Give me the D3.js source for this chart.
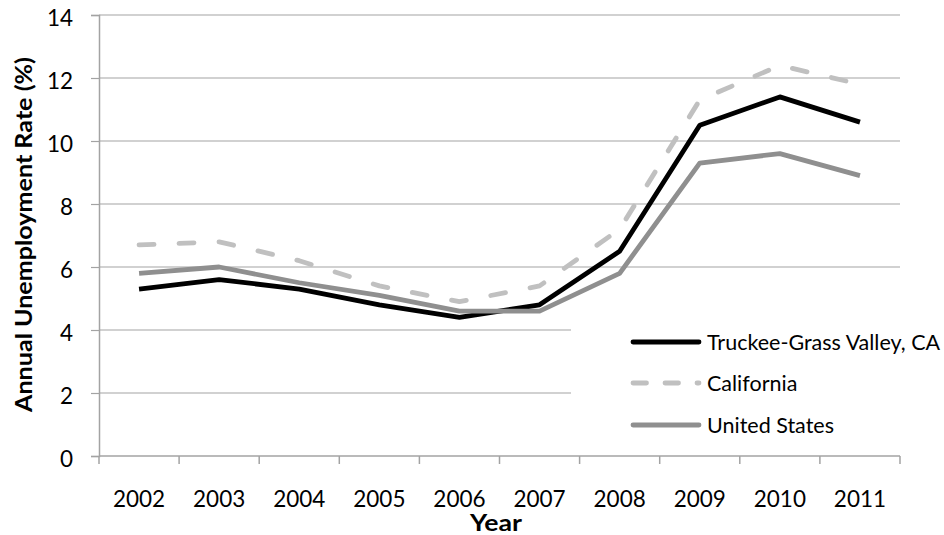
<!DOCTYPE html>
<html>
<head>
<meta charset="utf-8">
<script src="https://cdn.jsdelivr.net/npm/d3@7"></script>
<style>
  html, body { margin: 0; padding: 0; background: #fff; }
  svg { display: block; font-family: Lato, "Open Sans", sans-serif; }
</style>
</head>
<body>
<svg id="chart" width="944" height="535"></svg>
<script>
const years = ["2002","2003","2004","2005","2006","2007","2008","2009","2010","2011"];
const truckee = [5.3, 5.6, 5.3, 4.8, 4.4, 4.8, 6.5, 10.5, 11.4, 10.6];
const california = [6.7, 6.8, 6.2, 5.4, 4.9, 5.4, 7.2, 11.3, 12.4, 11.8];
const unitedStates = [5.8, 6.0, 5.5, 5.1, 4.6, 4.6, 5.8, 9.3, 9.6, 8.9];
const yTicks = [0, 2, 4, 6, 8, 10, 12, 14];
const seriesNames = ["Truckee-Grass Valley, CA", "California", "United States"];

const series = [
  { name: seriesNames[0], values: truckee, color: "#000000", dash: null, legDash: null },
  { name: seriesNames[1], values: california, color: "#c0c0c0", dash: "15 25", legDash: "13.5 18.5" },
  { name: seriesNames[2], values: unitedStates, color: "#8f8f8f", dash: null, legDash: null }
];

const svg = d3.select("#chart");
const mLeft = 99, mRight = 900, mTop = 15, mBottom = 456;

const x = d3.scaleBand().domain(years).range([mLeft, mRight]).paddingInner(0).paddingOuter(0);
const y = d3.scaleLinear().domain([0, 14]).range([mBottom, mTop]);
const gridColor = "#a3a3a3";
const lw = 4.8;

// gridlines
svg.append("g").selectAll("line").data(yTicks.filter(d => d > 0)).join("line")
  .attr("x1", mLeft).attr("x2", mRight)
  .attr("y1", d => y(d)).attr("y2", d => y(d))
  .attr("stroke", gridColor).attr("stroke-width", 1.2);

// y axis
const yAxis = svg.append("g").attr("transform", `translate(${mLeft},0)`)
  .call(d3.axisLeft(y).tickValues(yTicks).tickSize(8).tickPadding(10).tickFormat(d3.format("d")));
yAxis.select(".domain").attr("stroke", gridColor).attr("stroke-width", 1.5);
yAxis.selectAll(".tick line").attr("stroke", gridColor).attr("stroke-width", 1.2);
yAxis.selectAll(".tick text").attr("font-size", 22.5).attr("fill", "#000")
  .attr("font-family", "Lato, sans-serif").attr("dy", "0.45em").attr("x", -26).attr("text-anchor", "end");

// x axis
const xAxis = svg.append("g").attr("transform", `translate(0,${mBottom})`)
  .call(d3.axisBottom(x).tickSize(0).tickPadding(0));
xAxis.select(".domain").attr("stroke", gridColor).attr("stroke-width", 1.5).attr("d", `M${mLeft},0H${mRight}`);
xAxis.selectAll(".tick text").attr("font-size", 22.5).attr("fill", "#000")
  .attr("font-family", "Lato, sans-serif").attr("y", 51).attr("dy", 0);
const bounds = years.map(d => x(d)).concat([x(years[years.length - 1]) + x.bandwidth()]);
xAxis.append("g").selectAll("line").data(bounds).join("line")
  .attr("x1", d => d).attr("x2", d => d).attr("y1", 0).attr("y2", 8)
  .attr("stroke", gridColor).attr("stroke-width", 1.5);

// legend background (covers gridlines)
const legend = svg.append("g");
legend.append("rect").attr("x", 571).attr("y", 300).attr("width", 373).attr("height", 152).attr("fill", "#fff");

// lines
const line = d3.line().x((d, i) => x(years[i]) + x.bandwidth() / 2).y(d => y(d));
svg.append("g").selectAll("path").data(series).join("path")
  .attr("d", d => line(d.values))
  .attr("fill", "none")
  .attr("stroke", d => d.color)
  .attr("stroke-width", lw)
  .attr("stroke-linejoin", "round")
  .attr("stroke-linecap", d => d.dash ? "round" : "butt")
  .attr("stroke-dasharray", d => d.dash);

// legend entries
const legY = [342, 383, 425];
const items = legend.selectAll("g.item").data(series).join("g").attr("class", "item")
  .attr("transform", (d, i) => `translate(0,${legY[i]})`);
items.append("line").attr("x1", 633).attr("x2", 699).attr("y1", 0).attr("y2", 0)
  .attr("stroke", d => d.color).attr("stroke-width", lw)
  .attr("stroke-linecap", "round")
  .attr("stroke-dasharray", d => d.legDash);
items.append("text").attr("x", 707).attr("y", 0).attr("dy", "0.36em")
  .attr("font-size", 21.5).attr("fill", "#000").text(d => d.name);

// axis titles
svg.append("text").attr("transform", "translate(32,234.5) rotate(-90)")
  .attr("text-anchor", "middle").attr("font-weight", "bold").attr("font-size", 23.5)
  .attr("textLength", 355).attr("lengthAdjust", "spacingAndGlyphs")
  .attr("fill", "#000").text("Annual Unemployment Rate (%)");
svg.append("text").attr("x", 496).attr("y", 531)
  .attr("text-anchor", "middle").attr("font-weight", "bold").attr("font-size", 23)
  .attr("textLength", 52).attr("lengthAdjust", "spacingAndGlyphs")
  .attr("fill", "#000").text("Year");
</script>
</body>
</html>
